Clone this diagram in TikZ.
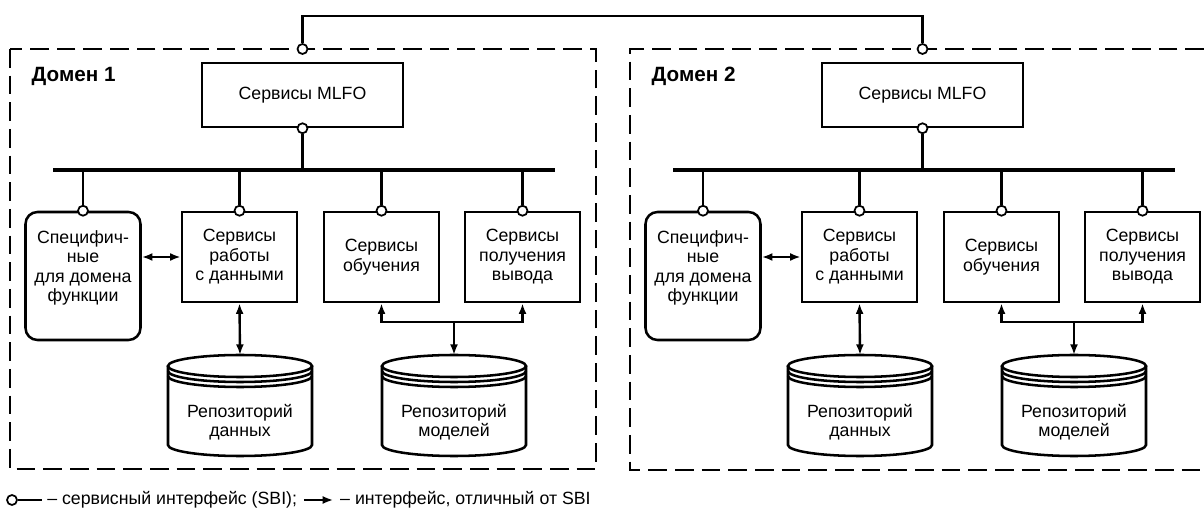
\documentclass[tikz,border=0pt]{standalone}
\usepackage{fontspec}
\setmainfont{Liberation Sans}
\usetikzlibrary{positioning}
\usetikzlibrary{calc}
\usetikzlibrary{arrows.meta}
\newcommand{\repo}[3]{% name, centre x, text
  \draw[boxline] (#2-72,-366) -- (#2-72,-445) arc[start angle=180,end angle=360,x radius=72,y radius=11] -- (#2+72,-366);
  \draw[boxline] (#2,-366) ellipse [x radius=72,y radius=11];
  \draw[boxline] (#2-72,-371) arc[start angle=180,end angle=360,x radius=72,y radius=11];
  \draw[boxline] (#2-72,-376) arc[start angle=180,end angle=360,x radius=72,y radius=11];
  \coordinate (#1) at (#2,-355);
  \node[align=center] (#1text) at (#2,-422) {#3};}
\tikzset{
    boxline/.style = {line width=1.9pt},
    service/.style = {rectangle,draw,boxline,align=center,inner sep=0pt,minimum width=86.25pt,minimum height=67.5pt},
    domainfn/.style = {service,rounded corners=9pt,minimum height=96pt},
    sbi/.style = {circle,draw,fill=white,line width=1.3pt,inner sep=0pt,minimum size=7.5pt},
    wire/.style = {line width=1.8pt},
    bus/.style = {line width=2.5pt},
    frame/.style = {line width=1.5pt,dash pattern=on 14pt off 6pt},
    both/.style = {wire,{Latex[length=8pt,width=6pt]}-{Latex[length=8pt,width=6pt]}},
    towards/.style = {wire,-{Latex[length=8pt,width=6pt]}}}
\begin{document}
\begin{tikzpicture}[x=0.75pt,y=0.75pt,every node/.append style={font=\fontsize{13.3}{14.6}\selectfont}]
    \useasboundingbox (0,0) rectangle (1204,-509);
    % domain frames and the link between them
    \draw[frame] (10,-49) rectangle (596,-469);
    \draw[frame] (1204,-49) -| (630,-470) -- (1204,-470);
    \coordinate (link) at (302.5,-16);
    \node[sbi] (top1) at (302.5,-49) {};
    \node[sbi] (top2) at (922.5,-49) {};
    \draw[wire] (top1.north) -- (link) -| (top2.north);
    \foreach \d/\dx in {1/0,2/620}{
      \node[anchor=west,font=\fontsize{15.5}{17}\selectfont\bfseries] (dom\d) at (\dx+27,-76) {Домен \d};
      \node[service,minimum width=151pt,minimum height=48pt] (mlfo\d) at (\dx+302.5,-95) {Сервисы MLFO};
      \node[sbi] (mlfosbi\d) at (mlfo\d.south) {};
      \coordinate (busL\d) at (\dx+53,-170);
      \coordinate (busR\d) at (\dx+555,-170);
      \draw[bus] (busL\d) -- (busR\d);
      \draw[wire] (mlfosbi\d.south) -- (mlfosbi\d |- busL\d);
      % services
      \node[domainfn] (spec\d) at (\dx+83,-276)
        {\raisebox{5.6pt}[\height][\depth]{\begin{tabular}{@{}c@{}}Специфич-\\ные\\для домена\\функции\end{tabular}}};
      \node[service] (data\d) at (\dx+239.5,-257) {Сервисы\\работы\\с данными};
      \node[service] (train\d) at (\dx+381.5,-257) {Сервисы\\обучения};
      \node[service] (infer\d) at (\dx+522.5,-257) {Сервисы\\получения\\вывода};
      \foreach \s in {spec,data,train,infer}{
        \node[sbi] (\s sbi\d) at (\s\d.north) {};
        \draw[wire] (\s sbi\d.north) -- (\s sbi\d |- busL\d);}
      % repositories
      \repo{datarepo\d}{\dx+240}{Репозиторий\\данных}
      \repo{modelrepo\d}{\dx+454}{Репозиторий\\моделей}
      \coordinate (fork\d) at (\dx+454,-322);
      \draw[both] (spec\d.east |- data\d.west) -- (data\d.west);
      \draw[both] (data\d.south) -- (datarepo\d);
      \draw[both] (train\d.south) -- (train\d.south |- fork\d) -- (infer\d.south |- fork\d) -- (infer\d.south);
      \draw[towards] (fork\d) -- (modelrepo\d);
    }
    % legend
    \node[sbi] (keysbi) at (12,-500) {};
    \coordinate (keysbiend) at (42,-500);
    \node[anchor=west,inner sep=0pt] (keysbitext) at (47,-500) {– сервисный интерфейс (SBI);};
    \coordinate (keyfrom) at ([xshift=5pt]keysbitext.east);
    \coordinate (keyto) at ([xshift=22pt]keyfrom);
    \node[anchor=west,inner sep=0pt] (keyothertext) at ([xshift=5pt]keyto) {– интерфейс, отличный от SBI};
    \draw[wire] (keysbi.east) -- (keysbiend);
    \draw[towards] (keyfrom) -- (keyto);
\end{tikzpicture}
\end{document}
